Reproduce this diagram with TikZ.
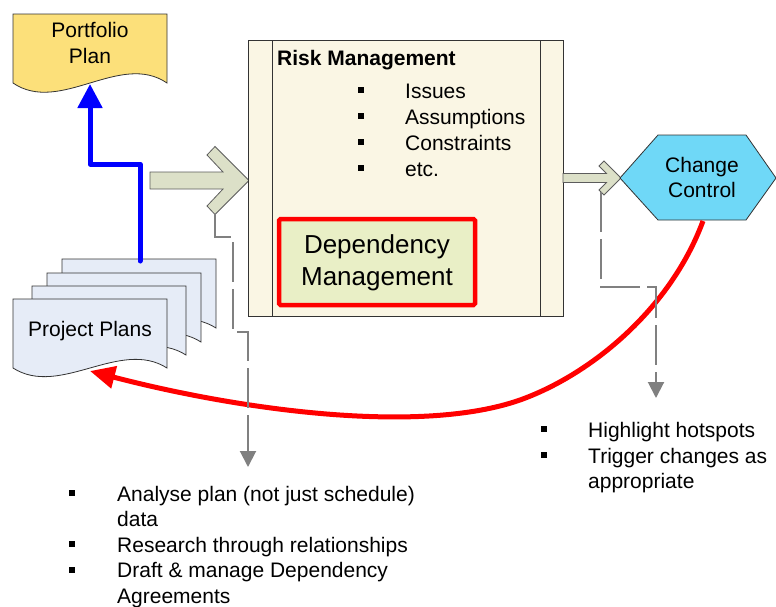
\documentclass[tikz,border=0pt]{standalone}
\usepackage{fontspec}
\setmainfont{Liberation Sans}
\usetikzlibrary{arrows.meta}
\definecolor{docblue}{HTML}{E6ECF7}
\definecolor{portyellow}{HTML}{FCE07A}
\definecolor{arrowgreen}{HTML}{DCE0C8}
\definecolor{riskcream}{HTML}{FAF6E4}
\definecolor{depgreen}{HTML}{E9EFC6}
\definecolor{ccblue}{HTML}{6FD8F7}
\definecolor{dashgray}{HTML}{808080}
\definecolor{outline}{HTML}{333333}
\begin{document}
\begin{tikzpicture}[x=1pt,y=-1pt,
  txt/.style={inner sep=0pt, font=\fontsize{21pt}{25.5pt}\selectfont},
  bl/.style={txt, anchor=base west},
  ct/.style={txt, anchor=base},
  sqbullet/.style={fill=black, minimum size=6pt, inner sep=0pt},
  docshape/.style={draw=outline, line width=0.8pt},
  chevron/.style={draw=outline!80, fill=arrowgreen, line width=0.8pt},
  dashconn/.style={draw=dashgray, line width=2pt, dash pattern=on 40pt off 7pt,
    -{Triangle[length=16pt,width=16pt]}},
]
\useasboundingbox (0,0) rectangle (776,606);

% ---------- Portfolio Plan document
\begin{scope}[shift={(13,14)}]
  \draw[docshape, fill=portyellow] (0,0) -- (154,0) -- (154,69)
    .. controls (107,37) and (47,101) .. (0,69) -- cycle;
\end{scope}
\node[ct] (port1) at (90,37) {Portfolio};
\node[ct] (port2) at (90,63) {Plan};
\coordinate (portb) at (90,84);

% ---------- Project Plans stack
\foreach \dx/\dy in {62/259, 47/273, 32/286, 13/299}{
  \begin{scope}[shift={(\dx,\dy)}]
    \draw[docshape, fill=docblue] (0,0) -- (154,0) -- (154,69)
      .. controls (107,39) and (47,99) .. (0,69) -- cycle;
  \end{scope}
}
\node[ct] (pp) at (90,336) {Project Plans};
\coordinate (pptop) at (140,261);
\coordinate (ppbot) at (90,371);

% ---------- Blue arrow
\draw[blue, line width=5pt, line join=round, line cap=round,
  -{Triangle[length=24pt,width=24pt]}]
  (pptop) -- (140,164) -- (90,164) -- (portb);

% ---------- Big chevron arrow
\draw[chevron] (150,172) -- (223,172) -- (207,155) -- (215,146.5) -- (249,180.5)
  -- (215,214.5) -- (207,206) -- (223,189) -- (150,189) -- cycle;
\coordinate (bigarm) at (215,213);

% ---------- Risk Management box
\draw[draw=outline, line width=0.9pt, fill=riskcream] (248,40) rectangle (563,316);
\draw[draw=outline, line width=0.9pt] (272,40) -- (272,316) (540,40) -- (540,316);
\node[txt, anchor=base west, font=\fontsize{21pt}{25pt}\selectfont\bfseries] (riskt) at (277,65) {Risk Management};
\foreach \yy/\tt [count=\i] in {98/Issues, 124/Assumptions, 150/Constraints, 176/etc.}{
  \node[sqbullet] (rb\i) at (361,\yy-8) {};
  \node[bl] (ri\i) at (405,\yy) {\tt};
}

% ---------- Dependency Management
\node[draw=red, line width=4.5pt, fill=depgreen, rounded corners=1.5pt,
  minimum width=196pt, minimum height=86pt, inner sep=0pt] (dep) at (377,262) {};
\node[ct, font=\fontsize{26pt}{32pt}\selectfont] (dep1) at (377,253) {Dependency};
\node[ct, font=\fontsize{26pt}{32pt}\selectfont] (dep2) at (377,285) {Management};

% ---------- Small chevron arrow
\draw[chevron] (563,173.5) -- (606.5,173.5) -- (599,166) -- (604,161) -- (621,178)
  -- (604,195) -- (599,190) -- (606.5,182.5) -- (563,182.5) -- cycle;
\coordinate (smallarm) at (601,192);

% ---------- Change Control hexagon
\draw[draw=outline, line width=0.8pt, fill=ccblue]
  (620,178) -- (658,135) -- (746,135) -- (776,178) -- (746,220) -- (658,220) -- cycle;
\node[ct] (cc1) at (702,172) {Change};
\node[ct] (cc2) at (702,197) {Control};
\coordinate (ccb) at (703,221);

% ---------- Red feedback arrow
\draw[red, line width=5pt, -{Triangle[length=25pt,width=22pt]}]
  (ccb) .. controls (670,310) and (590,375) .. (520,400)
        .. controls (420,435) and (240,410) .. (ppbot);

% ---------- Dashed gray connectors
\coordinate (leftend) at (248,467);
\coordinate (rightend) at (656,398);
\draw[dashconn] (bigarm) -- (215,237) -- (233,237) -- (233,332) -- (248,332) -- (leftend);
\draw[dashconn] (smallarm) -- (601,287) -- (656,287) -- (rightend);

% ---------- Bottom-right bullets
\node[sqbullet] (br1) at (544,429) {};
\node[bl] (brt1) at (588,437) {Highlight hotspots};
\node[sqbullet] (br2) at (544,455) {};
\node[bl] (brt2) at (588,463) {Trigger changes as};
\node[bl] (brt3) at (588,488.5) {appropriate};

% ---------- Bottom-left bullets
\node[sqbullet] (bb1) at (72,493) {};
\node[bl] (bbt1) at (117,501) {Analyse plan (not just schedule)};
\node[bl] (bbt2) at (117,526.5) {data};
\node[sqbullet] (bb2) at (72,544) {};
\node[bl] (bbt3) at (117,552) {Research through relationships};
\node[sqbullet] (bb3) at (72,569.5) {};
\node[bl] (bbt4) at (117,577.5) {Draft \& manage Dependency};
\node[bl] (bbt5) at (117,603) {Agreements};
\end{tikzpicture}
\end{document}
